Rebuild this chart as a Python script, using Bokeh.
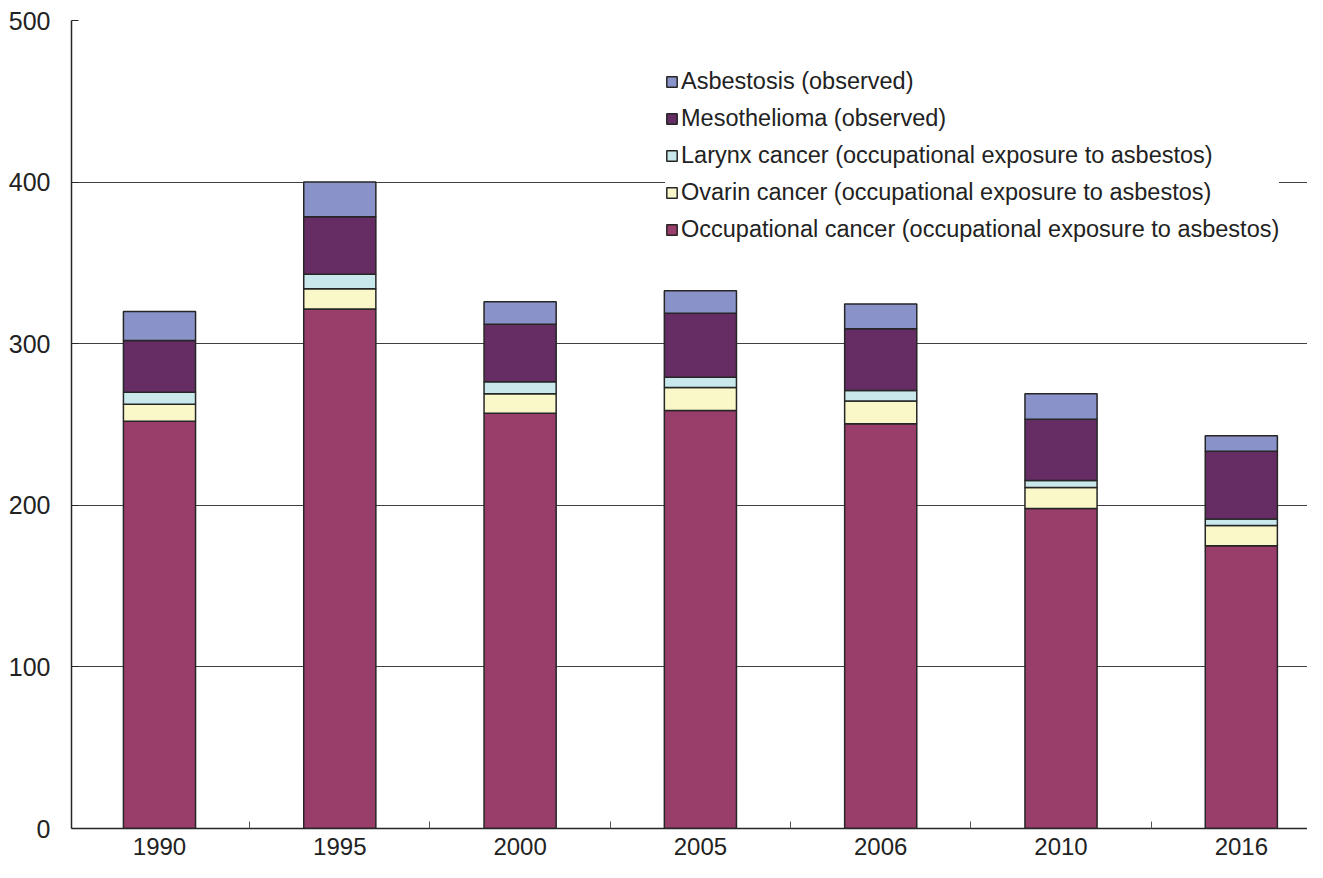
from bokeh.plotting import figure
from bokeh.models import ColumnDataSource, FixedTicker, Legend, LegendItem, Range1d
from bokeh.embed import file_html
from bokeh.resources import INLINE

years = ["1990", "1995", "2000", "2005", "2006", "2010", "2016"]
occupational = [252, 321.5, 257, 258.7, 250.5, 198, 175]
ovarin = [10.5, 12.5, 12, 14.2, 14, 13, 12.5]
larynx = [7.5, 9, 7.5, 6.3, 6.5, 4.3, 4]
mesothelioma = [32, 35.5, 35.5, 39.6, 38.3, 38, 42]
asbestosis = [18, 21.5, 14, 14, 15.2, 15.8, 9.5]

series = ["occupational", "ovarin", "larynx", "mesothelioma", "asbestosis"]
labels = [
    "Occupational cancer (occupational exposure to asbestos)",
    "Ovarin cancer (occupational exposure to asbestos)",
    "Larynx cancer (occupational exposure to asbestos)",
    "Mesothelioma (observed)",
    "Asbestosis (observed)",
]
colors = ["#993D6A", "#FAF8C8", "#C8E8EC", "#652D64", "#8A93C9"]

idx = list(range(len(years)))
source = ColumnDataSource(dict(
    x=idx,
    occupational=occupational,
    ovarin=ovarin,
    larynx=larynx,
    mesothelioma=mesothelioma,
    asbestosis=asbestosis,
))

p = figure(width=1307, height=862, output_backend="svg", toolbar_location=None,
           x_range=Range1d(-0.488, 6.367), y_range=Range1d(0, 500),
           min_border_left=71, min_border_top=20, min_border_bottom=34,
           min_border_right=0)
p.outline_line_color = None
p.background_fill_color = "white"
p.border_fill_color = "white"

renderers = p.vbar_stack(series, x="x", width=0.4, source=source,
                         fill_color=colors, line_color="#262626", line_width=1.5)

font = "Liberation Sans"
# y axis
p.yaxis.ticker = FixedTicker(ticks=[0, 100, 200, 300, 400, 500])
p.yaxis.major_tick_in = 7
p.yaxis.major_tick_out = 0
p.yaxis.minor_tick_line_color = None
p.yaxis.axis_line_color = "#262626"
p.yaxis.axis_line_width = 1.5
p.yaxis.major_tick_line_color = "#262626"
p.yaxis.major_label_text_font = font
p.yaxis.major_label_text_font_size = "25px"
p.yaxis.major_label_text_color = "#222222"
p.yaxis.major_label_standoff = 21

# x axis
p.xaxis.ticker = FixedTicker(ticks=idx, minor_ticks=[i + 0.5 for i in idx[:-1]])
p.xaxis.major_label_overrides = {i: y for i, y in zip(idx, years)}
p.xaxis.major_tick_line_color = None
p.xaxis.minor_tick_in = 7
p.xaxis.minor_tick_out = 0
p.xaxis.minor_tick_line_color = "#555555"
p.xaxis.axis_line_color = "#262626"
p.xaxis.axis_line_width = 1.5
p.xaxis.major_label_text_font = font
p.xaxis.major_label_text_font_size = "24px"
p.xaxis.major_label_text_color = "#222222"
p.xaxis.major_label_standoff = 3

p.xgrid.grid_line_color = None
p.ygrid.grid_line_color = "#404040"
p.ygrid.grid_line_width = 1

items = [LegendItem(label=labels[i], renderers=[renderers[i]]) for i in reversed(range(5))]
legend = Legend(items=items, location=(594, 585))
legend.background_fill_color = "white"
legend.background_fill_alpha = 1
legend.border_line_color = None
legend.label_text_font = font
legend.label_text_font_size = "23.5px"
legend.label_text_color = "#222222"
legend.glyph_width = 13
legend.glyph_height = 13
legend.label_height = 22
legend.spacing = 10
legend.padding = 5
legend.margin = 0
legend.label_standoff = 3
p.add_layout(legend, "center")

open("out.html", "w").write(file_html(p, INLINE))
